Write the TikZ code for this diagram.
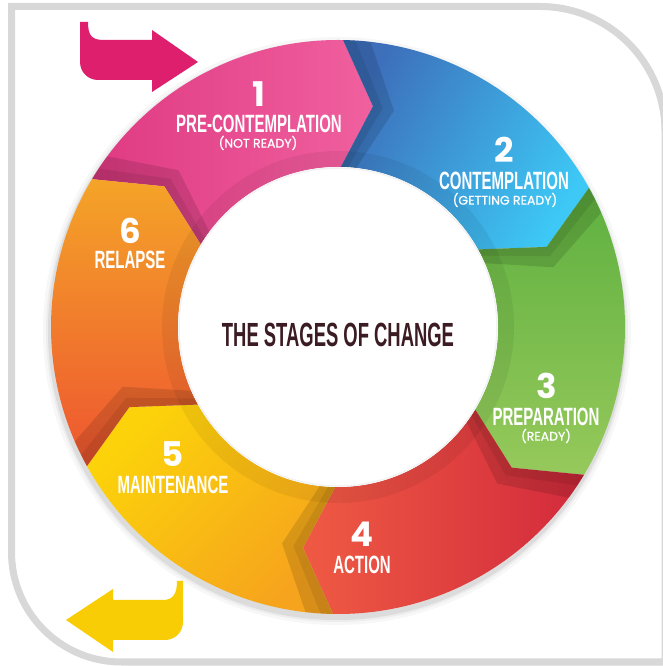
\documentclass[tikz,border=0pt]{standalone}
\usepackage{fontspec}
\newfontfamily\condfont[FakeStretch=0.6]{Liberation Sans}
\newfontfamily\ctrfont[FakeStretch=0.55]{Liberation Sans}
\newfontfamily\numfont{Poppins}
\newfontfamily\subfont[FakeBold=0.8]{Poppins}
\definecolor{framegray}{HTML}{D8D8D8}
\definecolor{arrowpink}{HTML}{DD1F6E}
\definecolor{arrowyellow}{HTML}{F9CD06}
\definecolor{pinkA}{HTML}{DF3A82}
\definecolor{pinkB}{HTML}{F0609F}
\definecolor{blueA}{HTML}{3D6FBB}
\definecolor{blueB}{HTML}{3DC8F5}
\definecolor{greenA}{HTML}{5EB040}
\definecolor{greenB}{HTML}{96C95B}
\definecolor{redA}{HTML}{EF5A43}
\definecolor{redB}{HTML}{D22A3C}
\definecolor{yellowA}{HTML}{FCD30A}
\definecolor{yellowB}{HTML}{F6A31D}
\definecolor{orangeA}{HTML}{F4A428}
\definecolor{orangeB}{HTML}{EE5530}
\definecolor{titlecol}{HTML}{3B1C23}
\begin{document}
\begin{tikzpicture}[x=1pt,y=1pt,
  lbl/.style={text=white, inner sep=0pt, font=\condfont\bfseries\fontsize{25}{25}\selectfont},
  num/.style={text=white, inner sep=0pt, font=\numfont\bfseries\fontsize{34}{34}\selectfont},
  sublbl/.style={text=white, inner sep=0pt, font=\subfont\fontsize{12.5}{12.5}\selectfont},
  ctr/.style={text=titlecol, inner sep=0pt, font=\ctrfont\bfseries\fontsize{33.5}{33.5}\selectfont},
  bandstyle/.style={fill=black, fill opacity=0.12},
  bandstyleb/.style={fill=black, fill opacity=0.08},
]
\useasboundingbox (0,0) rectangle (662,666);
\fill[white] (0,0) rectangle (662,666);
% frame
\draw[line width=7pt, framegray] (11.5,659.5) -- (540,659.5)
  arc[start angle=90,end angle=0,radius=125] -- (665,4) -- (121.5,4)
  arc[start angle=270,end angle=180,radius=110] -- cycle;
% entry arrow (pink)
\fill[arrowpink] (80,644) -- (88,644) .. controls (88,630) and (92,626) .. (104,626)
  -- (152,626) -- (152,636) -- (198,604) -- (152,574) -- (152,586) -- (98,586)
  .. controls (88,586) and (80,594) .. (80,604) -- cycle;
% exit arrow (yellow)
\fill[arrowyellow] (183,85) -- (183,44) .. controls (183,34) and (175,26) .. (165,26)
  -- (113,26) -- (113,14) -- (66,46) -- (113,77) -- (113,66) -- (163,66)
  .. controls (173,66) and (177,72) .. (177,85) -- cycle;
% ring
\begin{scope}[shift={(338,339)}]
  \foreach \r/\o in {294/0.03,291/0.04,289/0.07}
    \fill[black, opacity=\o] (-1,-4) circle (\r);
  \foreach \s/\ca/\cb/\ang in {149/pinkA/pinkB/90, 89/blueA/blueB/60, 29/greenA/greenB/0,
      -31/redA/redB/90, -91/yellowA/yellowB/45, -151/orangeA/orangeB/0}{
    \shade[top color=\ca, bottom color=\cb, shading angle=\ang]
      (\s:287) arc[start angle=\s, end angle=\s-60, radius=287]
      -- ({\s-68}:223.5) -- ({\s-60}:160)
      arc[start angle=\s-60, end angle=\s, radius=160]
      -- ({\s-8}:223.5) -- cycle;
    \fill[bandstyle] (\s:287) -- ({\s-8}:223.5) -- (\s:160)
      arc[start angle=\s, end angle=\s-5.5, radius=160]
      -- ({\s-13.5}:223.5) -- ({\s-5.5}:287)
      arc[start angle=\s-5.5, end angle=\s, radius=287] -- cycle;
    \fill[bandstyleb] (\s:287) -- ({\s-8}:223.5) -- (\s:160)
      arc[start angle=\s, end angle=\s-2.5, radius=160]
      -- ({\s-10.5}:223.5) -- ({\s-2.5}:287)
      arc[start angle=\s-2.5, end angle=\s, radius=287] -- cycle;
  }
  \fill[black, opacity=0.06, even odd rule] (0,0) circle (176) (0,0) circle (160);
  \fill[white] (0,0) circle (160);
  \draw[black!5, line width=1.5pt] (0,0) circle (159);
\end{scope}
% texts
\node[ctr] (title) at (338,331) {THE STAGES OF CHANGE};
\node[num] (n1) at (259,572) {1};
\node[lbl] (l1) at (259,542) {PRE-CONTEMPLATION};
\node[sublbl] (s1) at (258,523) {(NOT READY)};
\node[num] (n2) at (504,516) {2};
\node[lbl] (l2) at (504,485) {CONTEMPLATION};
\node[sublbl] (s2) at (505,466) {(GETTING READY)};
\node[num] (n3) at (547,280) {3};
\node[lbl] (l3) at (546,249) {PREPARATION};
\node[sublbl] (s3) at (546,230) {(READY)};
\node[num] (n4) at (362,132) {4};
\node[lbl] (l4) at (362,101) {ACTION};
\node[num] (n5) at (173,212) {5};
\node[lbl] (l5) at (173,181) {MAINTENANCE};
\node[num] (n6) at (130,435) {6};
\node[lbl] (l6) at (130,406) {RELAPSE};
\end{tikzpicture}
\end{document}
